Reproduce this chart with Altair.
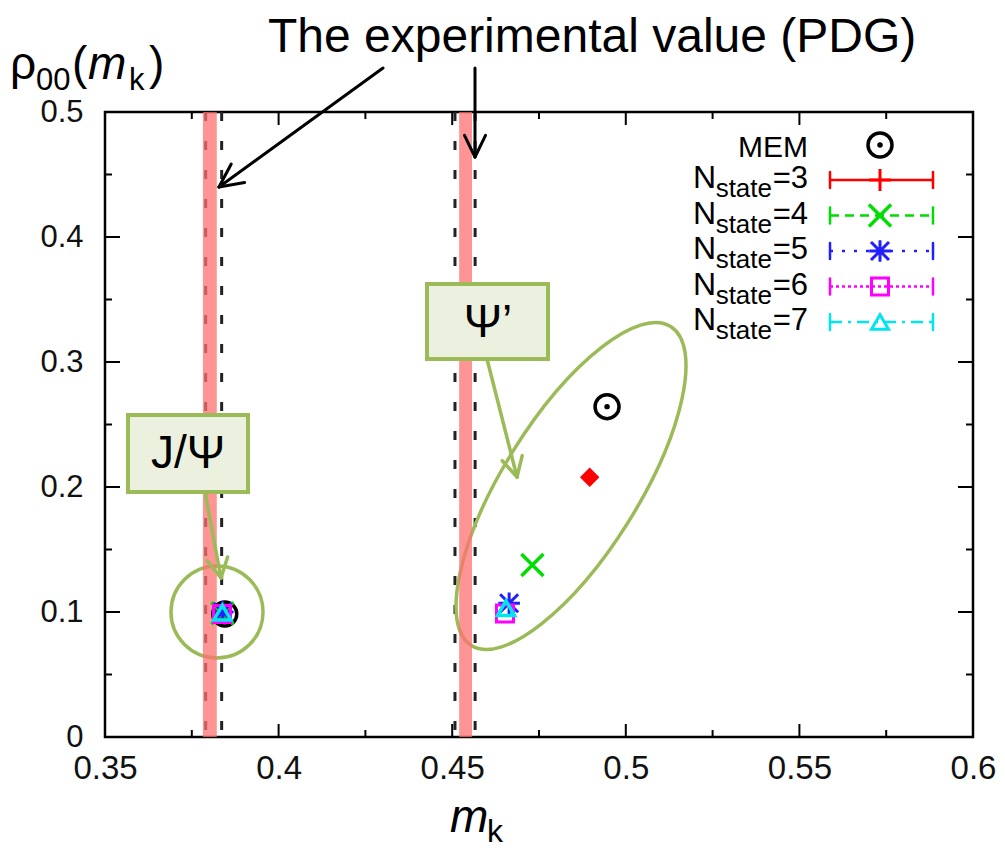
import math
import altair as alt
import pandas as pd

# ---------------- data ----------------
series = ["MEM", "N3", "N4", "N5", "N6", "N7"]
jpsi_mk = [0.3845, 0.3838, 0.3838, 0.3839, 0.3837, 0.3838]
jpsi_rho = [0.0984, 0.0995, 0.0990, 0.1000, 0.0985, 0.0995]
psi2_mk = [0.4946, 0.4896, 0.4731, 0.4664, 0.4652, 0.4655]
psi2_rho = [0.2643, 0.2078, 0.1376, 0.1070, 0.0989, 0.1030]

pdg_lo = [0.3782, 0.4520]
pdg_hi = [0.3822, 0.4557]
dash_mk = [0.3790, 0.3836, 0.4508, 0.4566]

x_major = [0.35, 0.4, 0.45, 0.5, 0.55, 0.6]
x_minor = [0.375, 0.425, 0.475, 0.525, 0.575]
y_major = [0, 0.1, 0.2, 0.3, 0.4, 0.5]
y_minor = [0.05, 0.15, 0.25, 0.35, 0.45]

legend_labels = ["=3", "=4", "=5", "=6", "=7"]

# ---------------- layout ----------------
W, H = 868, 625
OX, OY = 105, 112
FONT = "Liberation Sans"
GREEN = "#9bbb59"
BOXFILL = "#ebf1de"
COL = {"N3": "#ff0000", "N4": "#00dd00", "N5": "#2020ff", "N6": "#ff00ff", "N7": "#00e5ee"}

xs = alt.Scale(domain=[0.35, 0.6], nice=False, zero=False)
ys = alt.Scale(domain=[0, 0.5], nice=False, zero=False)
x_axis = alt.Axis(values=x_major, format="~g", ticks=False, domain=False, grid=False,
                  labelFontSize=33, labelFont=FONT, labelColor="#111", labelPadding=15,
                  labelFlush=False, labelOverlap=False, title=None)
y_axis = alt.Axis(values=y_major, format="~g", ticks=False, domain=False, grid=False,
                  labelFontSize=31, labelFont=FONT, labelColor="#111", labelPadding=22,
                  labelFlush=False, labelOverlap=False, title=None)

ONE = pd.DataFrame({"a": [0]})
layers = []


def X(f="v"):
    return alt.X(f"{f}:Q", scale=xs, axis=x_axis)


def Y(f="v"):
    return alt.Y(f"{f}:Q", scale=ys, axis=y_axis)


def seg(x0, y0, x1, y1, color, sw, dash=None):
    kw = dict(color=color, strokeWidth=sw, strokeCap="round")
    if dash:
        kw["strokeDash"] = dash
        kw["strokeCap"] = "butt"
    return alt.Chart(ONE).mark_rule(**kw).encode(
        x=alt.value(x0 - OX), y=alt.value(y0 - OY),
        x2=alt.value(x1 - OX), y2=alt.value(y1 - OY))


def arrow(x0, y0, x1, y1, color, sw, L=24, ang=27):
    out = [seg(x0, y0, x1, y1, color, sw)]
    n = math.hypot(x1 - x0, y1 - y0)
    ux, uy = (x1 - x0) / n, (y1 - y0) / n
    for s in (1, -1):
        a = math.radians(ang) * s
        cx = -ux * math.cos(a) + uy * math.sin(a)
        cy = -ux * math.sin(a) - uy * math.cos(a)
        out.append(seg(x1, y1, x1 + L * cx, y1 + L * cy, color, sw))
    return out


def txt(s, x, y, size, align="left", style="normal", baseline="alphabetic"):
    return alt.Chart(ONE).mark_text(text=s, fontSize=size, font=FONT, align=align,
                                    baseline=baseline, fontStyle=style, color="black").encode(
        x=alt.value(x - OX), y=alt.value(y - OY))


def sym(x, y, shape, size, color, filled=False, sw=3, angle=0):
    return alt.Chart(ONE).mark_point(shape=shape, size=size, color=color, filled=filled,
                                     strokeWidth=sw, opacity=1, angle=angle).encode(
        x=alt.value(x - OX), y=alt.value(y - OY))


# ---------------- dashed reference lines ----------------
layers.append(alt.Chart(pd.DataFrame({"v": dash_mk})).mark_rule(
    color="#222", strokeWidth=3, strokeDash=[9, 20]).encode(x=X()))

# ---------------- annotation shapes below bands ----------------
ELLIPSE = ("M 1 0 C 1 0.199 0.552 0.36 0 0.36 C -0.552 0.36 -1 0.199 -1 0 "
           "C -1 -0.199 -0.552 -0.36 0 -0.36 C 0.552 -0.36 1 -0.199 1 0 Z")
layers.append(sym(571, 486, ELLIPSE, 376 ** 2, GREEN, sw=3.5, angle=302))
layers.append(sym(217, 612, "circle", 92 ** 2, GREEN, sw=3.5))

# ---------------- PDG bands ----------------
layers.append(alt.Chart(pd.DataFrame({"lo": pdg_lo, "hi": pdg_hi})).mark_rect(
    color="#ff7070", opacity=0.75).encode(x=X("lo"), x2="hi:Q",
                                          y=alt.value(0), y2=alt.value(H)))

# ---------------- inward ticks ----------------
for vals, ln in ((x_major, 13), (x_minor, 7)):
    d = pd.DataFrame({"v": vals})
    b = alt.Chart(d).mark_rule(color="black", strokeWidth=2)
    layers.append(b.encode(x=X(), y=alt.value(H), y2=alt.value(H - ln)))
    layers.append(b.encode(x=X(), y=alt.value(0), y2=alt.value(ln)))
for vals, ln in ((y_major, 15), (y_minor, 7)):
    d = pd.DataFrame({"v": vals})
    b = alt.Chart(d).mark_rule(color="black", strokeWidth=2)
    layers.append(b.encode(y=Y(), x=alt.value(0), x2=alt.value(ln)))
    layers.append(b.encode(y=Y(), x=alt.value(W), x2=alt.value(W - ln)))

# ---------------- data points ----------------
df = pd.DataFrame({"series": series * 2, "mk": jpsi_mk + psi2_mk, "rho": jpsi_rho + psi2_rho})

XSHAPE = "M -1 -1 L 1 1 M -1 1 L 1 -1"
STAR = "M -1 -1 L 1 1 M -1 1 L 1 -1 M 0 -1.2 L 0 1.2 M -1.2 0 L 1.2 0"
PLUS = "M -1 0 L 1 0 M 0 -1 L 0 1"

style = {
    "MEM": dict(shape="circle", size=576, color="black", filled=False, strokeWidth=3.5),
    "N3": dict(shape="diamond", size=380, color=COL["N3"], filled=True, strokeWidth=1),
    "N4": dict(shape=XSHAPE, size=22 ** 2, color=COL["N4"], filled=False, strokeWidth=3.5),
    "N5": dict(shape=STAR, size=18 ** 2, color=COL["N5"], filled=False, strokeWidth=3),
    "N6": dict(shape="square", size=17 ** 2, color=COL["N6"], filled=False, strokeWidth=3),
    "N7": dict(shape="triangle-up", size=17 ** 2, color=COL["N7"], filled=False, strokeWidth=3.5),
}
for s in series:
    sub = df[df.series == s]
    layers.append(alt.Chart(sub).mark_point(opacity=1, **style[s]).encode(x=X("mk"), y=Y("rho")))
    if s == "MEM":
        layers.append(alt.Chart(sub).mark_point(shape="circle", size=30, color="black",
                                                filled=True, opacity=1).encode(x=X("mk"), y=Y("rho")))

# ---------------- callouts ----------------
for (x0, y0, x1, y1, label, tx, ty, p0, p1) in (
        (128, 415, 248, 492, "J/Ψ", 188, 454, (205, 492), (221, 578)),
        (427, 284, 548, 359, "Ψ’", 488, 323, (487, 359), (517, 477))):
    layers.append(alt.Chart(ONE).mark_rect(fill=BOXFILL, stroke=GREEN, strokeWidth=4).encode(
        x=alt.value(x0 - OX), x2=alt.value(x1 - OX), y=alt.value(y0 - OY), y2=alt.value(y1 - OY)))
    layers.append(txt(label, tx, ty, 46, align="center", baseline="middle"))
    layers += arrow(p0[0], p0[1], p1[0], p1[1], GREEN, 3.5, L=22, ang=28)

# ---------------- top text + black arrows ----------------
layers.append(txt("The experimental value (PDG)", 268, 52, 48))
layers += arrow(383, 68, 219, 187, "black", 3, L=26, ang=26)
layers += arrow(475, 68, 475, 157, "black", 3, L=24, ang=26)

# ---------------- axis titles ----------------
layers.append(txt("ρ", 10, 79, 46))
layers.append(txt("00", 36, 90, 31))
layers.append(txt("(", 72, 79, 46))
layers.append(txt("m", 88, 79, 46, style="italic"))
layers.append(txt("k", 129, 90, 31))
layers.append(txt(")", 149, 79, 46))

layers.append(txt("m", 450, 832, 46, style="italic"))
layers.append(txt("k", 487, 842, 32))

# ---------------- legend ----------------
layers.append(txt("MEM", 808, 157, 30, align="right"))
layers.append(sym(880, 145, "circle", 576, "black", sw=3.5))
layers.append(sym(880, 145, "circle", 30, "black", filled=True, sw=1))

leg_style = [
    ("N3", None, PLUS, 22 ** 2, 3),
    ("N4", [9, 6], XSHAPE, 22 ** 2, 3.5),
    ("N5", [3, 9], STAR, 18 ** 2, 3),
    ("N6", [3, 3], "square", 17 ** 2, 3),
    ("N7", [12, 6, 3, 6], "triangle-up", 17 ** 2, 3),
]
for k, (lab, (s, dash, shp, sz, sw)) in enumerate(zip(legend_labels, leg_style)):
    yb = 188 + 35.5 * k
    yl = 180 + 35.5 * k
    layers.append(txt(lab, 808, yb, 31, align="right"))
    layers.append(txt("state", 772, yb + 9, 26, align="right"))
    layers.append(txt("N", 716, yb, 32, align="right"))
    layers.append(seg(830, yl, 933, yl, COL[s], 2.5, dash=dash))
    layers.append(seg(830, yl - 8, 830, yl + 8, COL[s], 2.5))
    layers.append(seg(933, yl - 8, 933, yl + 8, COL[s], 2.5))
    layers.append(sym(880, yl, shp, sz, COL[s], sw=sw))

chart = alt.layer(*layers).properties(
    width=W, height=H,
    autosize=alt.AutoSizeParams(type="none"),
    padding={"left": OX, "top": OY, "right": 1005 - OX - W, "bottom": 851 - OY - H},
    background="white",
).configure_view(stroke="black", strokeWidth=2.5)

chart.save("out.html", embed_options={"renderer": "svg", "actions": False})
